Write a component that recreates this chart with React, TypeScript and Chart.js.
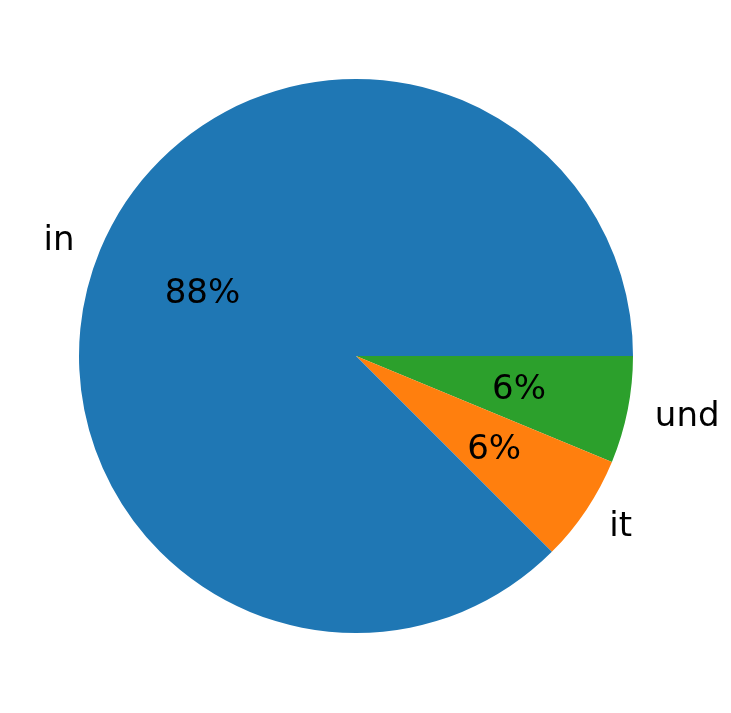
import { useEffect, useRef } from 'react';
import { Chart, ChartConfiguration, registerables, Plugin } from 'chart.js';

Chart.register(...registerables);

// Slices listed clockwise from 3 o'clock (matplotlib draws counter-clockwise)
const labels = ['und', 'it', 'in'];
const values = [1, 1, 14];
const colors = ['#2ca02c', '#ff7f0e', '#1f77b4'];

const FONT = '34px "DejaVu Sans", sans-serif';
const TEXT_DY = 2;

const pieLabels: Plugin<'pie'> = {
  id: 'pieLabels',
  afterDatasetsDraw(chart) {
    const ctx = chart.ctx;
    const meta = chart.getDatasetMeta(0);
    const total = values.reduce((s, v) => s + v, 0);
    ctx.save();
    ctx.font = FONT;
    ctx.fillStyle = '#000000';
    ctx.textBaseline = 'middle';
    meta.data.forEach((el: any, i) => {
      const { x, y, startAngle, endAngle, outerRadius } = el.getProps(
        ['x', 'y', 'startAngle', 'endAngle', 'outerRadius'],
        true
      );
      const mid = (startAngle + endAngle) / 2;
      const cos = Math.cos(mid);
      const sin = Math.sin(mid);

      // percentage inside
      const pct = Math.round((values[i] / total) * 100) + '%';
      ctx.textAlign = 'center';
      ctx.fillText(pct, x + cos * outerRadius * 0.6, y + sin * outerRadius * 0.6 + TEXT_DY);

      // category label outside
      ctx.textAlign = cos < 0 ? 'right' : 'left';
      ctx.fillText(labels[i], x + cos * outerRadius * 1.1, y + sin * outerRadius * 1.1 + TEXT_DY);
    });
    ctx.restore();
  },
};

export default function App() {
  const canvasRef = useRef<HTMLCanvasElement>(null);
  const chartRef = useRef<Chart | null>(null);

  useEffect(() => {
    document.body.style.margin = '0';
    if (!canvasRef.current) return;
    if (chartRef.current) chartRef.current.destroy();

    const config: ChartConfiguration<'pie'> = {
      type: 'pie',
      data: {
        labels,
        datasets: [
          {
            data: values,
            backgroundColor: colors,
            borderWidth: 0,
          },
        ],
      },
      options: {
        responsive: false,
        animation: false,
        rotation: 90,
        layout: { padding: { left: 79, right: 98, top: 79, bottom: 80 } },
        plugins: {
          legend: { display: false },
          tooltip: { enabled: false },
        },
      },
      plugins: [pieLabels],
    };

    chartRef.current = new Chart(canvasRef.current, config);

    return () => {
      if (chartRef.current) {
        chartRef.current.destroy();
        chartRef.current = null;
      }
    };
  }, []);

  return (
    <div style={{ width: 731, height: 713, background: '#ffffff' }}>
      <canvas ref={canvasRef} width={731} height={713} style={{ display: 'block' }} />
    </div>
  );
}
